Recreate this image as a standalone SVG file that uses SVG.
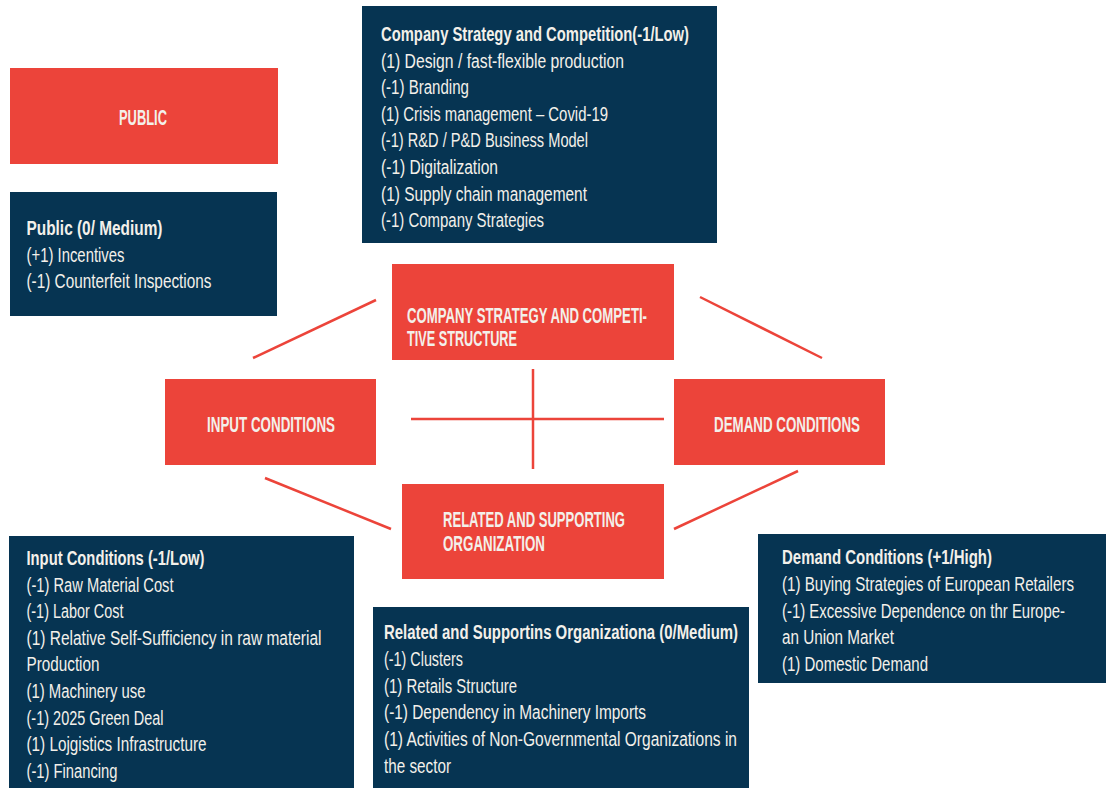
<svg xmlns="http://www.w3.org/2000/svg" width="1108" height="788" viewBox="0 0 1108 788">
<style>
.red{fill:#ec443a}
.navy{fill:#063452}
.t{font-family:"Liberation Sans",Arial,sans-serif;fill:#f3f0ea;font-size:19.5px}
.b{font-weight:bold}
.h{font-family:"Liberation Sans",Arial,sans-serif;fill:#f3f0ea;font-size:22px;font-weight:bold}
.ln{stroke:#ec443a;stroke-width:2.5;fill:none}
</style>
<rect width="1108" height="788" fill="#ffffff"/>
<g id="connectors">
<line class="ln" x1="253" y1="358" x2="376" y2="300"/>
<line class="ln" x1="700" y1="297" x2="822" y2="358"/>
<line class="ln" x1="533" y1="369" x2="533" y2="469"/>
<line class="ln" x1="411" y1="419" x2="664" y2="419"/>
<line class="ln" x1="265" y1="478" x2="391" y2="529"/>
<line class="ln" x1="674" y1="529" x2="798" y2="471"/>
</g>
<g id="company-details">
<rect class="navy" x="362" y="6" width="355" height="237"/>
<text class="t b" x="381" y="41" textLength="308" lengthAdjust="spacingAndGlyphs">Company Strategy and Competition(-1/Low)</text>
<text class="t" x="381" y="67.6" textLength="243" lengthAdjust="spacingAndGlyphs">(1) Design / fast-flexible production</text>
<text class="t" x="381" y="94.2" textLength="88" lengthAdjust="spacingAndGlyphs">(-1) Branding</text>
<text class="t" x="381" y="120.8" textLength="227" lengthAdjust="spacingAndGlyphs">(1) Crisis management – Covid-19</text>
<text class="t" x="381" y="147.4" textLength="207" lengthAdjust="spacingAndGlyphs">(-1) R&amp;D / P&amp;D Business Model</text>
<text class="t" x="381" y="174" textLength="117" lengthAdjust="spacingAndGlyphs">(-1) Digitalization</text>
<text class="t" x="381" y="200.6" textLength="206" lengthAdjust="spacingAndGlyphs">(1) Supply chain management</text>
<text class="t" x="381" y="227.2" textLength="163" lengthAdjust="spacingAndGlyphs">(-1) Company Strategies</text>
</g>
<g id="public">
<rect class="red" x="10" y="68" width="268" height="96"/>
<text class="h" x="143" y="125" text-anchor="middle" textLength="48" lengthAdjust="spacingAndGlyphs">PUBLIC</text>
</g>
<g id="public-details">
<rect class="navy" x="10" y="192" width="267" height="124"/>
<text class="t b" x="26.5" y="235" textLength="136" lengthAdjust="spacingAndGlyphs">Public (0/ Medium)</text>
<text class="t" x="26.5" y="261.5" textLength="98" lengthAdjust="spacingAndGlyphs">(+1) Incentives</text>
<text class="t" x="26.5" y="288" textLength="185" lengthAdjust="spacingAndGlyphs">(-1) Counterfeit Inspections</text>
</g>
<g id="company">
<rect class="red" x="392" y="264" width="282" height="96"/>
<text class="h" x="407" y="322.5" textLength="240" lengthAdjust="spacingAndGlyphs">COMPANY STRATEGY AND COMPETI-</text>
<text class="h" x="407" y="346" textLength="110" lengthAdjust="spacingAndGlyphs">TIVE STRUCTURE</text>
</g>
<g id="input">
<rect class="red" x="165" y="379" width="211" height="86"/>
<text class="h" x="207" y="431.5" textLength="128" lengthAdjust="spacingAndGlyphs">INPUT CONDITIONS</text>
</g>
<g id="demand">
<rect class="red" x="674" y="379" width="211" height="86"/>
<text class="h" x="714" y="431.5" textLength="146" lengthAdjust="spacingAndGlyphs">DEMAND CONDITIONS</text>
</g>
<g id="related">
<rect class="red" x="402" y="484" width="262" height="95"/>
<text class="h" x="443" y="527" textLength="182" lengthAdjust="spacingAndGlyphs">RELATED AND SUPPORTING</text>
<text class="h" x="443" y="550.5" textLength="102" lengthAdjust="spacingAndGlyphs">ORGANIZATION</text>
</g>
<g id="input-details">
<rect class="navy" x="9" y="536" width="345" height="252"/>
<text class="t b" x="26.5" y="565" textLength="178" lengthAdjust="spacingAndGlyphs">Input Conditions (-1/Low)</text>
<text class="t" x="26.5" y="591.6" textLength="147" lengthAdjust="spacingAndGlyphs">(-1) Raw Material Cost</text>
<text class="t" x="26.5" y="618.2" textLength="97" lengthAdjust="spacingAndGlyphs">(-1) Labor Cost</text>
<text class="t" x="26.5" y="644.8" textLength="295" lengthAdjust="spacingAndGlyphs">(1) Relative Self-Sufficiency in raw material</text>
<text class="t" x="26.5" y="671.4" textLength="73" lengthAdjust="spacingAndGlyphs">Production</text>
<text class="t" x="26.5" y="698" textLength="119" lengthAdjust="spacingAndGlyphs">(1) Machinery use</text>
<text class="t" x="26.5" y="724.6" textLength="137" lengthAdjust="spacingAndGlyphs">(-1) 2025 Green Deal</text>
<text class="t" x="26.5" y="751.2" textLength="180" lengthAdjust="spacingAndGlyphs">(1) Lojgistics Infrastructure</text>
<text class="t" x="26.5" y="777.8" textLength="91" lengthAdjust="spacingAndGlyphs">(-1) Financing</text>
</g>
<g id="related-details">
<rect class="navy" x="373" y="607" width="376" height="181"/>
<text class="t b" x="384" y="639" textLength="354" lengthAdjust="spacingAndGlyphs">Related and Supportins Organizationa (0/Medium)</text>
<text class="t" x="384" y="665.8" textLength="79" lengthAdjust="spacingAndGlyphs">(-1) Clusters</text>
<text class="t" x="384" y="692.6" textLength="133" lengthAdjust="spacingAndGlyphs">(1) Retails Structure</text>
<text class="t" x="384" y="719.4" textLength="262" lengthAdjust="spacingAndGlyphs">(-1) Dependency in Machinery Imports</text>
<text class="t" x="384" y="746.2" textLength="353" lengthAdjust="spacingAndGlyphs">(1) Activities of Non-Governmental Organizations in</text>
<text class="t" x="384" y="773" textLength="67" lengthAdjust="spacingAndGlyphs">the sector</text>
</g>
<g id="demand-details">
<rect class="navy" x="758" y="534" width="348" height="149"/>
<text class="t b" x="782" y="564" textLength="210" lengthAdjust="spacingAndGlyphs">Demand Conditions  (+1/High)</text>
<text class="t" x="782" y="590.8" textLength="292" lengthAdjust="spacingAndGlyphs">(1) Buying Strategies of European Retailers</text>
<text class="t" x="782" y="617.6" textLength="283" lengthAdjust="spacingAndGlyphs">(-1) Excessive Dependence on thr Europe-</text>
<text class="t" x="782" y="644.4" textLength="112" lengthAdjust="spacingAndGlyphs">an Union Market</text>
<text class="t" x="782" y="671.2" textLength="146" lengthAdjust="spacingAndGlyphs">(1) Domestic Demand</text>
</g>
</svg>
